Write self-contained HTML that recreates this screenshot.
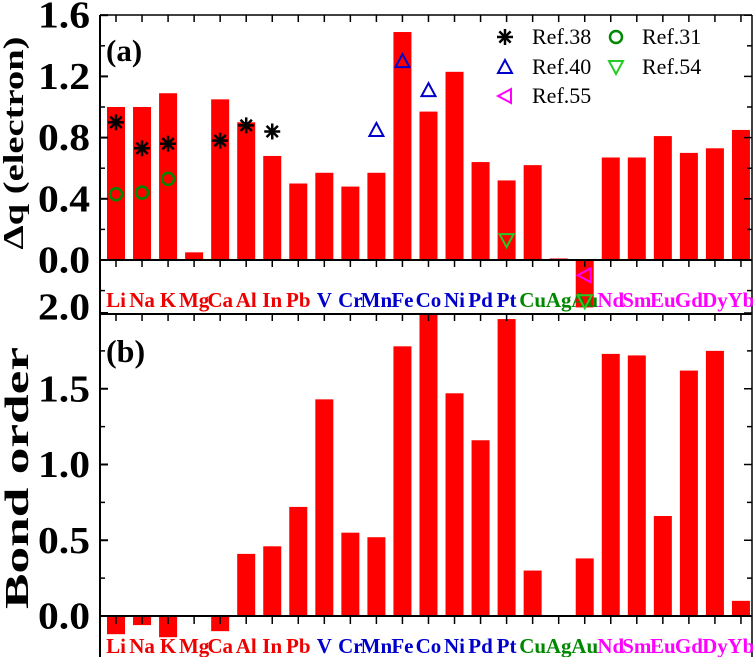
<!DOCTYPE html>
<html><head><meta charset="utf-8"><style>
body{margin:0;background:#fff}
svg{display:block;font-family:"Liberation Serif",serif;font-weight:bold}
</style></head><body>
<svg id="c" width="753" height="657"></svg>
<script>
const cats=["Li","Na","K","Mg","Ca","Al","In","Pb","V","Cr","Mn","Fe","Co","Ni","Pd","Pt","Cu","Ag","Au","Nd","Sm","Eu","Gd","Dy","Yb"];
const catColors=["#e00","#e00","#e00","#e00","#e00","#e00","#e00","#e00","#0000cc","#0000cc","#0000cc","#0000cc","#0000cc","#0000cc","#0000cc","#0000cc","#080","#080","#080","#f0f","#f0f","#f0f","#f0f","#f0f","#f0f"];
const dq=[1.0,1.0,1.09,0.05,1.05,0.9,0.68,0.5,0.57,0.48,0.57,1.49,0.97,1.23,0.64,0.52,0.62,0.01,-0.31,0.67,0.67,0.81,0.70,0.73,0.85];
const bond=[-0.12,-0.06,-0.14,0,-0.1,0.41,0.46,0.72,1.43,0.55,0.52,1.78,2.05,1.47,1.16,1.96,0.30,0,0.38,1.73,1.72,0.66,1.62,1.75,0.10];
const ref38Cats=["Li","Na","K","Ca","Al","In"], ref38=[0.9,0.73,0.76,0.78,0.88,0.84];
const ref31Cats=["Li","Na","K"], ref31=[0.43,0.44,0.53];
const ref40Cats=["Mn","Fe","Co"], ref40=[0.85,1.3,1.11];
const ref54Cats=["Pt","Au"], ref54=[0.13,-0.27];
const ref55Cats=["Au"], ref55=[-0.1];
const topTicks=[0,0.4,0.8,1.2,1.6], topMinor=[-0.2,0.2,0.6,1.0,1.4];
const botTicks=[0,0.5,1.0,1.5,2.0], botMinor=[0.25,0.75,1.25,1.75];
const NS="http://www.w3.org/2000/svg", svg=document.getElementById('c');
function el(t,a,txt){const e=document.createElementNS(NS,t);for(const k in a)e.setAttribute(k,a[k]);if(txt!==undefined)e.textContent=txt;svg.appendChild(e);return e;}
const X0=100,X1=752;
const xc=i=>116+i*26.04;
const xOf=c=>xc(cats.indexOf(c));
const yT=v=>260-v*153;
const yB=v=>616-v*151.5;
dq.forEach((v,i)=>{const r=el('rect',{x:xc(i)-9,y:Math.min(yT(v),yT(0)),width:18,height:Math.abs(yT(v)-yT(0)),fill:'#f00'});

});
bond.forEach((v,i)=>{const y0=Math.max(yB(v),yB(2.0));const r=el('rect',{x:xc(i)-9,y:Math.min(y0,yB(0)),width:18,height:Math.abs(y0-yB(0)),fill:'#f00'});

});
el('line',{x1:X0,y1:15,x2:X0,y2:657,stroke:'#000','stroke-width':2,});
el('line',{x1:X1,y1:15,x2:X1,y2:657,stroke:'#000','stroke-width':1.5,});
el('line',{x1:X0,y1:15,x2:X1,y2:15,stroke:'#000','stroke-width':1.5,});
el('line',{x1:X0,y1:yT(0),x2:X1,y2:yT(0),stroke:'#000','stroke-width':2,});
el('line',{x1:X0,y1:314,x2:X1,y2:314,stroke:'#000','stroke-width':2,});
el('line',{x1:X0,y1:yB(0),x2:X1,y2:yB(0),stroke:'#000','stroke-width':2,});
cats.forEach((c,i)=>{
 el('line',{x1:xc(i),y1:15,x2:xc(i),y2:22,stroke:'#000','stroke-width':1.5});
 el('line',{x1:xc(i),y1:yT(0),x2:xc(i),y2:yT(0)+7,stroke:'#000','stroke-width':1.5});
 el('line',{x1:xc(i),y1:314,x2:xc(i),y2:321,stroke:'#000','stroke-width':1.5});
 el('line',{x1:xc(i),y1:yB(0),x2:xc(i),y2:yB(0)+8,stroke:'#000','stroke-width':1.5});
 const t1=el('text',{x:xc(i),y:307,'text-anchor':'middle','font-size':21,fill:catColors[i]},c);
 
 
 const t2=el('text',{x:xc(i),y:653,'text-anchor':'middle','font-size':21,fill:catColors[i]},c);
 
 
});
function ylab(y,s,name){const t=el('text',{x:90,y:y+12.5,'text-anchor':'end','font-size':38,textLength:52,lengthAdjust:'spacingAndGlyphs'},s);
 
 }
function rtick(y,l){el('line',{x1:X1,y1:y,x2:X1-l,y2:y,stroke:'#000','stroke-width':1.5});}
topTicks.forEach(v=>{el('line',{x1:X0,y1:yT(v),x2:X0+8,y2:yT(v),stroke:'#000','stroke-width':2});rtick(yT(v),8);ylab(yT(v),v.toFixed(1),'top-y-tick-label');});
topMinor.forEach(v=>{el('line',{x1:X0,y1:yT(v),x2:X0+5,y2:yT(v),stroke:'#000','stroke-width':1.5});rtick(yT(v),5);});
botTicks.forEach(v=>{el('line',{x1:X0,y1:yB(v),x2:X0+8,y2:yB(v),stroke:'#000','stroke-width':2});rtick(yB(v),8);ylab(yB(v)-6*(v==2),v.toFixed(1),'bottom-y-tick-label');});
botMinor.forEach(v=>{el('line',{x1:X0,y1:yB(v),x2:X0+5,y2:yB(v),stroke:'#000','stroke-width':1.5});rtick(yB(v),5);});
el('text',{x:0,y:0,transform:'translate(23,143) rotate(-90)','text-anchor':'middle','font-size':28,textLength:213,lengthAdjust:'spacingAndGlyphs',},'Δq (electron)');
el('text',{x:0,y:0,transform:'translate(28,478) rotate(-90)','text-anchor':'middle','font-size':34,textLength:262,lengthAdjust:'spacingAndGlyphs',},'Bond order');
el('text',{x:106,y:61,'font-size':31,},'(a)');
el('text',{x:106,y:362,'font-size':32,},'(b)');
function star(x,y){for(let a=0;a<4;a++){const an=a*Math.PI/4;el('line',{x1:x-8*Math.cos(an),y1:y-8*Math.sin(an),x2:x+8*Math.cos(an),y2:y+8*Math.sin(an),stroke:'#000','stroke-width':2.5});}}
function circ(x,y){el('circle',{cx:x,cy:y,r:6,fill:'none',stroke:'#080','stroke-width':2.5});}
function triU(x,y){el('polygon',{points:`${x},${y-7} ${x-7},${y+6} ${x+7},${y+6}`,fill:'none',stroke:'#00c','stroke-width':2});}
function triD(x,y){el('polygon',{points:`${x},${y+7} ${x-7},${y-6} ${x+7},${y-6}`,fill:'none',stroke:'#2c2','stroke-width':2});}
function triL(x,y){el('polygon',{points:`${x-7},${y} ${x+6},${y-7} ${x+6},${y+7}`,fill:'none',stroke:'#f0f','stroke-width':2});}
ref38.forEach((v,i)=>star(xOf(ref38Cats[i]),yT(v)));
ref31.forEach((v,i)=>circ(xOf(ref31Cats[i]),yT(v)));
ref40.forEach((v,i)=>triU(xOf(ref40Cats[i]),yT(v)));
ref54.forEach((v,i)=>triD(xOf(ref54Cats[i]),yT(v)));
ref55.forEach((v,i)=>triL(xOf(ref55Cats[i]),yT(v)));
star(505,37);el('text',{x:532,y:44,'font-size':22,'font-weight':'normal',},'Ref.38');
circ(616,37);el('text',{x:642,y:44,'font-size':22,'font-weight':'normal',},'Ref.31');
triU(505,67);el('text',{x:532,y:74,'font-size':22,'font-weight':'normal',},'Ref.40');
triD(616,67);el('text',{x:642,y:74,'font-size':22,'font-weight':'normal',},'Ref.54');
triL(505,96);el('text',{x:532,y:103,'font-size':22,'font-weight':'normal',},'Ref.55');
</script>
</body></html>
